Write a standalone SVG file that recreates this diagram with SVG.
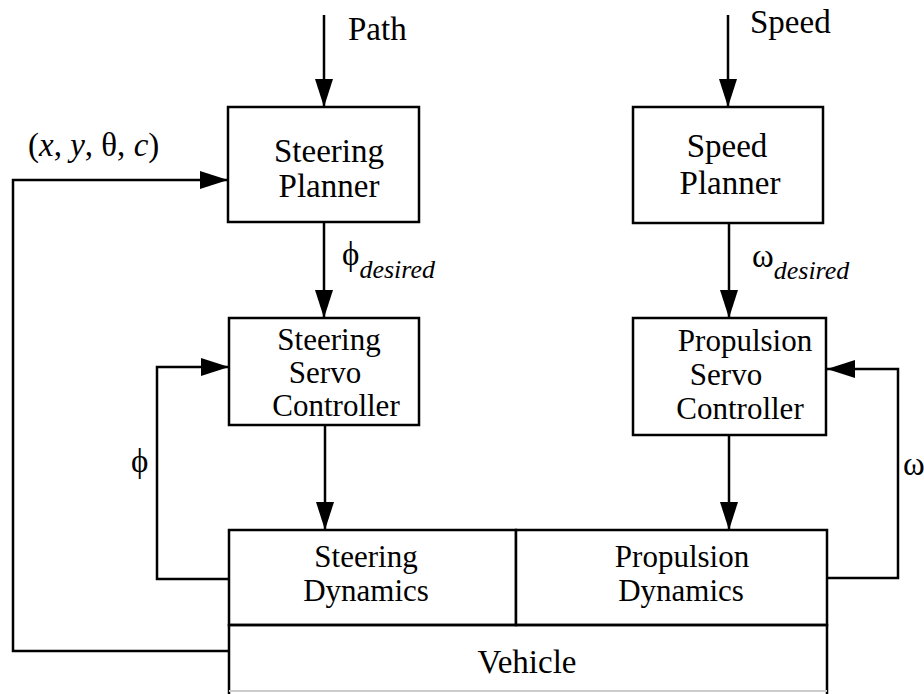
<svg xmlns="http://www.w3.org/2000/svg" width="924" height="694" viewBox="0 0 924 694">
<defs>
<marker id="ah" markerUnits="userSpaceOnUse" markerWidth="28" markerHeight="18" refX="28" refY="9" orient="auto">
<path d="M0,0 L28,9 L0,18 Z" fill="#000"/>
</marker>
<style>
.box{fill:#fff;stroke:#000;stroke-width:2.5}
.ln{fill:none;stroke:#000;stroke-width:2.5}
.t{font-family:"Liberation Serif","Times New Roman",serif;font-size:33px;fill:#000}
.s{font-size:31px}
.m{text-anchor:middle}
.it{font-style:italic}
</style>
</defs>
<rect width="924" height="694" fill="#fff"/>
<g id="connectors">
<path class="ln" d="M324,15 V107" marker-end="url(#ah)"/>
<path class="ln" d="M728,15 V107" marker-end="url(#ah)"/>
<path class="ln" d="M324,222 V318" marker-end="url(#ah)"/>
<path class="ln" d="M729,223 V318" marker-end="url(#ah)"/>
<path class="ln" d="M325,425 V530" marker-end="url(#ah)"/>
<path class="ln" d="M729,435 V530" marker-end="url(#ah)"/>
<path class="ln" d="M229,579 H157 V367 H229" marker-end="url(#ah)"/>
<path class="ln" d="M827,578 H898 V369 H827" marker-end="url(#ah)"/>
<path class="ln" d="M229,651 H13 V180 H228" marker-end="url(#ah)"/>
</g>
<g id="labels">
<text class="t" x="348" y="40">Path</text>
<text class="t" x="750" y="33">Speed</text>
<text class="t" x="28" y="156" font-size="30"><tspan>(</tspan><tspan class="it">x</tspan><tspan>, </tspan><tspan class="it">y</tspan><tspan>, θ, </tspan><tspan class="it">c</tspan><tspan>)</tspan></text>
<text class="t" x="342" y="265" font-size="30">ϕ<tspan class="it" font-size="26" dy="13">desired</tspan></text>
<text class="t" x="752" y="267" font-size="30">ω<tspan class="it" font-size="26" dy="12">desired</tspan></text>
<text class="t" x="131" y="472" font-size="30">ϕ</text>
<text class="t" x="903" y="475" font-size="30">ω</text>
</g>
<g id="steering-planner">
<rect class="box" x="228" y="107" width="191" height="115"/>
<text class="t m" x="329" y="162">Steering</text>
<text class="t m" x="329" y="197">Planner</text>
</g>
<g id="speed-planner">
<rect class="box" x="633" y="107" width="190" height="116"/>
<text class="t m" x="727" y="157">Speed</text>
<text class="t m" x="730" y="194">Planner</text>
</g>
<g id="steering-servo">
<rect class="box" x="229" y="318" width="190" height="107"/>
<text class="t s m" x="329" y="350">Steering</text>
<text class="t s m" x="325" y="383">Servo</text>
<text class="t s m" x="336" y="416">Controller</text>
</g>
<g id="propulsion-servo">
<rect class="box" x="633" y="318" width="193" height="117"/>
<text class="t s m" x="745" y="351">Propulsion</text>
<text class="t s m" x="726" y="385">Servo</text>
<text class="t s m" x="740" y="419">Controller</text>
</g>
<g id="steering-dynamics">
<rect class="box" x="229" y="530" width="287" height="95"/>
<text class="t s m" x="366" y="567">Steering</text>
<text class="t s m" x="366" y="601">Dynamics</text>
</g>
<g id="propulsion-dynamics">
<rect class="box" x="516" y="530" width="311" height="95"/>
<text class="t s m" x="682" y="567">Propulsion</text>
<text class="t s m" x="681" y="601">Dynamics</text>
</g>
<g id="vehicle">
<path class="ln" d="M229,694 V625 H827 V694"/>
<path d="M229,691 H827" fill="none" stroke="#ccc" stroke-width="2"/>
<text class="t m" x="527" y="673">Vehicle</text>
</g>
</svg>
